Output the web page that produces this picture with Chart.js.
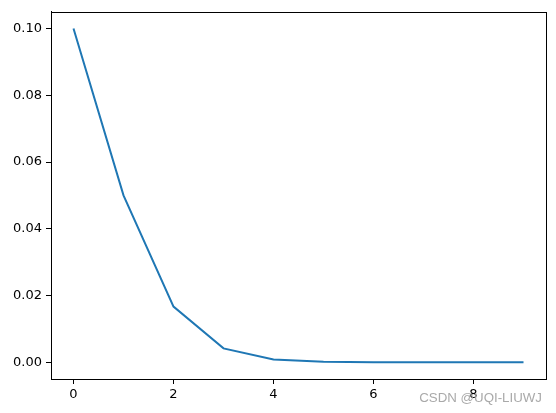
<!DOCTYPE html>
<html>
<head>
<meta charset="utf-8">
<script src="https://cdn.jsdelivr.net/npm/chart.js@4/dist/chart.umd.min.js"></script>
<style>
html,body{margin:0;padding:0;background:#fff;}
canvas{display:block;}
</style>
</head>
<body>
<canvas id="c" width="556" height="413"></canvas>
<script>
const xValues = [0, 1, 2, 3, 4, 5, 6, 7, 8, 9];
const yValues = [0.1, 0.05, 0.0167, 0.00417, 0.00083, 0.00014, 0.00002, 0.0000025, 0.0000003, 0.00000003];
const xTicks = [0, 2, 4, 6, 8];
const yTicks = [0, 0.02, 0.04, 0.06, 0.08, 0.10];
const watermark = "CSDN @UQI-LIUWJ";

const boxPlugin = {
  id: 'box',
  afterDraw(chart) {
    const {ctx, chartArea: a} = chart;
    ctx.save();
    ctx.strokeStyle = '#000';
    ctx.lineWidth = 1;
    ctx.strokeRect(Math.round(a.left) + 0.5, Math.round(a.top) + 0.5, Math.round(a.right - a.left), Math.round(a.bottom - a.top));
    ctx.font = '13.3px "Liberation Sans", Arial, sans-serif';
    ctx.fillStyle = 'rgba(160,160,160,0.9)';
    ctx.textAlign = 'right';
    ctx.textBaseline = 'middle';
    ctx.fillText(watermark, 542, 398);
    ctx.restore();
  }
};

new Chart(document.getElementById('c'), {
  type: 'line',
  data: {
    datasets: [{
      data: xValues.map((x, i) => ({x: x, y: yValues[i]})),
      borderColor: '#1f77b4',
      borderWidth: 2,
      pointRadius: 0,
      tension: 0,
      fill: false
    }]
  },
  options: {
    responsive: false,
    devicePixelRatio: 1,
    animation: false,
    layout: {padding: {left: 0, top: 9, right: 10, bottom: 0}},
    plugins: {legend: {display: false}, tooltip: {enabled: false}},
    scales: {
      x: {
        type: 'linear',
        min: -0.45,
        max: 9.45,
        afterBuildTicks(s) { s.ticks = xTicks.map(v => ({value: v})); },
        afterFit(s) { s.height = 34; },
        grid: {drawOnChartArea: false, drawTicks: true, tickLength: 5, color: '#000', tickColor: '#000'},
        border: {display: true, color: '#000', width: 1},
        ticks: {color: '#000', font: {family: '"DejaVu Sans"', size: 13}, padding: 3, maxRotation: 0,
          callback: v => String(v)}
      },
      y: {
        type: 'linear',
        min: -0.005,
        max: 0.105,
        afterBuildTicks(s) { s.ticks = yTicks.map(v => ({value: v})); },
        afterFit(s) { s.width = 51; },
        grid: {drawOnChartArea: false, drawTicks: true, tickLength: 5, color: '#000', tickColor: '#000'},
        border: {display: true, color: '#000', width: 1},
        ticks: {color: '#000', font: {family: '"DejaVu Sans"', size: 13}, padding: 4,
          callback: v => Number(v).toFixed(2)}
      }
    }
  },
  plugins: [boxPlugin]
});
</script>
</body>
</html>
